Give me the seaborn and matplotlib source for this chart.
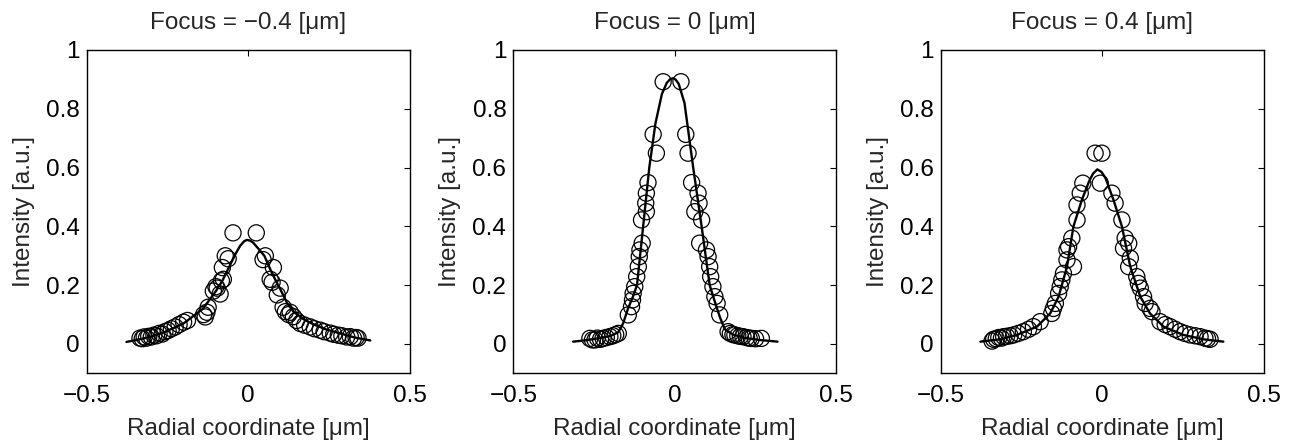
import numpy as np
import pandas as pd
import matplotlib
matplotlib.use("Agg")
import matplotlib.pyplot as plt
import seaborn as sns

# ---------------- data ----------------
titles = ["Focus = \u22120.4 [\u03bcm]", "Focus = 0 [\u03bcm]", "Focus = 0.4 [\u03bcm]"]
x_label = "Radial coordinate [\u03bcm]"
y_label = "Intensity [a.u.]"
x_ticks = [-0.5, 0, 0.5]
x_ticklabels = ["\u22120.5", "0", "0.5"]
y_ticks = [0, 0.2, 0.4, 0.6, 0.8, 1]
y_ticklabels = ["0", "0.2", "0.4", "0.6", "0.8", "1"]

# Panel 1 (focus -0.4) measured points
x1_pts = [-0.335, -0.328, -0.322, -0.315, -0.308, -0.300, -0.292, -0.284, -0.276, -0.266,
          -0.258, -0.248, -0.238, -0.226, -0.214, -0.200, -0.188, -0.138, -0.133, -0.128,
          -0.124, -0.108, -0.100, -0.096, -0.087, -0.083, -0.077, -0.080, -0.071, -0.062,
          -0.047,
          0.025, 0.046, 0.053, 0.068, 0.074, 0.078, 0.090, 0.099, 0.108, 0.115,
          0.125, 0.130, 0.140, 0.150, 0.161, 0.175, 0.192, 0.205, 0.223, 0.235,
          0.254, 0.265, 0.279, 0.290, 0.305, 0.316, 0.326, 0.334, 0.340]
y1_pts = [0.020, 0.018, 0.024, 0.020, 0.026, 0.024, 0.030, 0.028, 0.036, 0.034,
          0.042, 0.046, 0.052, 0.058, 0.066, 0.074, 0.080, 0.100, 0.092, 0.108,
          0.125, 0.180, 0.195, 0.190, 0.170, 0.215, 0.220, 0.260, 0.300, 0.290,
          0.378,
          0.378, 0.287, 0.300, 0.220, 0.210, 0.260, 0.167, 0.190, 0.125, 0.110,
          0.100, 0.108, 0.093, 0.080, 0.070, 0.064, 0.058, 0.052, 0.047, 0.042,
          0.037, 0.033, 0.030, 0.028, 0.024, 0.025, 0.020, 0.022, 0.020]
# Panel 1 fitted curve
x1_fit = [-0.377, -0.34, -0.30, -0.26, -0.22, -0.20, -0.17, -0.14, -0.12, -0.10, -0.08,
          -0.06, -0.04, -0.025, -0.012, -0.004, 0.005, 0.015, 0.035, 0.05, 0.07, 0.09,
          0.10, 0.12, 0.14, 0.17, 0.20, 0.24, 0.285, 0.33, 0.378]
y1_fit = [0.007, 0.015, 0.025, 0.040, 0.060, 0.070, 0.095, 0.120, 0.150, 0.180, 0.215,
          0.260, 0.305, 0.334, 0.350, 0.354, 0.352, 0.345, 0.320, 0.300, 0.250, 0.205,
          0.185, 0.140, 0.110, 0.085, 0.068, 0.050, 0.036, 0.022, 0.012]

# Panel 2 (focus 0) measured points
x2_pts = [-0.263, -0.255, -0.247, -0.240, -0.230, -0.222, -0.212, -0.201, -0.192, -0.183,
          -0.175, -0.144, -0.134, -0.131, -0.129, -0.124, -0.118, -0.113, -0.110, -0.108,
          -0.101, -0.103, -0.088, -0.090, -0.088, -0.083, -0.057, -0.067, -0.036,
          0.019, 0.034, 0.041, 0.052, 0.072, 0.075, 0.062, 0.083, 0.077, 0.098,
          0.103, 0.108, 0.111, 0.118, 0.124, 0.131, 0.139, 0.165, 0.172, 0.180,
          0.186, 0.195, 0.203, 0.211, 0.222, 0.230, 0.237, 0.250, 0.268]
y2_pts = [0.019, 0.014, 0.014, 0.020, 0.016, 0.019, 0.022, 0.025, 0.028, 0.032,
          0.036, 0.099, 0.127, 0.150, 0.172, 0.195, 0.229, 0.263, 0.297, 0.320,
          0.343, 0.422, 0.450, 0.479, 0.513, 0.549, 0.649, 0.713, 0.892,
          0.892, 0.713, 0.649, 0.549, 0.513, 0.479, 0.450, 0.422, 0.343, 0.320,
          0.297, 0.263, 0.229, 0.195, 0.161, 0.138, 0.099, 0.042, 0.036, 0.032,
          0.031, 0.028, 0.026, 0.025, 0.022, 0.020, 0.019, 0.018, 0.019]
# Panel 2 fitted curve
x2_fit = [-0.315, -0.28, -0.24, -0.20, -0.175, -0.16, -0.145, -0.13, -0.117, -0.098,
          -0.079, -0.06, -0.04, -0.025, -0.015, -0.007, 0.002, 0.012, 0.03, 0.057,
          0.083, 0.108, 0.125, 0.14, 0.155, 0.18, 0.22, 0.26, 0.318]
y2_fit = [0.008, 0.012, 0.019, 0.027, 0.040, 0.070, 0.120, 0.160, 0.200, 0.400,
          0.600, 0.750, 0.850, 0.888, 0.900, 0.904, 0.900, 0.885, 0.820, 0.600,
          0.400, 0.200, 0.140, 0.090, 0.050, 0.032, 0.020, 0.014, 0.008]

# Panel 3 (focus 0.4) measured points
x3_pts = [-0.341, -0.336, -0.328, -0.320, -0.312, -0.305, -0.296, -0.285, -0.274, -0.260,
          -0.244, -0.228, -0.213, -0.192, -0.156, -0.151, -0.145, -0.135, -0.130, -0.125,
          -0.120, -0.089, -0.109, -0.109, -0.104, -0.094, -0.078, -0.078, -0.068, -0.060,
          -0.022,
          -0.001, -0.006, 0.030, 0.040, 0.061, 0.071, 0.082, 0.066, 0.087, 0.082,
          0.107, 0.112, 0.118, 0.128, 0.133, 0.148, 0.154, 0.179, 0.195, 0.210,
          0.226, 0.241, 0.256, 0.272, 0.288, 0.303, 0.318, 0.326, 0.334]
y3_pts = [0.010, 0.016, 0.018, 0.022, 0.020, 0.025, 0.026, 0.028, 0.031, 0.036,
          0.042, 0.050, 0.059, 0.076, 0.104, 0.121, 0.138, 0.172, 0.195, 0.218,
          0.240, 0.263, 0.286, 0.320, 0.331, 0.360, 0.422, 0.473, 0.513, 0.547,
          0.649,
          0.649, 0.547, 0.513, 0.479, 0.422, 0.360, 0.342, 0.326, 0.292, 0.263,
          0.229, 0.206, 0.190, 0.161, 0.138, 0.121, 0.110, 0.076, 0.066, 0.059,
          0.050, 0.042, 0.036, 0.031, 0.028, 0.025, 0.020, 0.018, 0.016]
# Panel 3 fitted curve
x3_fit = [-0.377, -0.315, -0.264, -0.202, -0.161, -0.135, -0.109, -0.089, -0.063, -0.04,
          -0.028, -0.015, -0.002, 0.01, 0.035, 0.061, 0.087, 0.118, 0.148, 0.19, 0.251,
          0.313, 0.375]
y3_fit = [0.008, 0.016, 0.031, 0.059, 0.104, 0.161, 0.263, 0.400, 0.490, 0.555,
          0.580, 0.594, 0.585, 0.565, 0.490, 0.400, 0.263, 0.161, 0.104, 0.059, 0.031,
          0.016, 0.008]

panels = [
    (x1_pts, y1_pts, x1_fit, y1_fit),
    (x2_pts, y2_pts, x2_fit, y2_fit),
    (x3_pts, y3_pts, x3_fit, y3_fit),
]

# ---------------- style ----------------
sns.set_style("white")
plt.rcParams["font.family"] = ["Liberation Sans", "DejaVu Sans"]
plt.rcParams["axes.unicode_minus"] = True

FS = 17.5
W, H = 1294, 443
fig = plt.figure(figsize=(W / 100, H / 100), dpi=100)

lefts_px = [86.7, 513.3, 940.7]
ax_w_px = 323.0
top_px, bottom_px = 50.0, 373.4

for i, (xp, yp, xf, yf) in enumerate(panels):
    ax = fig.add_axes([lefts_px[i] / W, 1 - bottom_px / H,
                       ax_w_px / W, (bottom_px - top_px) / H])
    df_pts = pd.DataFrame({"x": xp, "y": yp})
    df_fit = pd.DataFrame({"x": xf, "y": yf})
    sns.lineplot(data=df_fit, x="x", y="y", ax=ax, color="black", linewidth=1.7,
                 estimator=None, sort=True, zorder=3)
    sns.scatterplot(data=df_pts, x="x", y="y", ax=ax, marker="o", s=135,
                    facecolor="none", edgecolor="black", linewidth=0.9, zorder=2)
    ax.set_xlim(-0.5, 0.5)
    ax.set_ylim(-0.1, 1.0)
    ax.set_xticks(x_ticks)
    ax.set_xticklabels(x_ticklabels)
    ax.set_yticks(y_ticks)
    ax.set_yticklabels(y_ticklabels)
    ax.tick_params(axis="both", direction="in", length=4, width=0.8,
                   top=True, right=True, labelsize=FS, colors="black")
    ax.tick_params(axis="x", pad=8)
    ax.tick_params(axis="y", pad=5)
    for sp in ax.spines.values():
        sp.set_color("black")
        sp.set_linewidth(1.0)
    ax.set_xlabel(x_label, fontsize=FS, labelpad=8)
    ax.set_ylabel(y_label, fontsize=FS, labelpad=8)
    ax.set_title(titles[i], fontsize=FS, pad=15)

fig.savefig("out.png", dpi=100, facecolor="white")
